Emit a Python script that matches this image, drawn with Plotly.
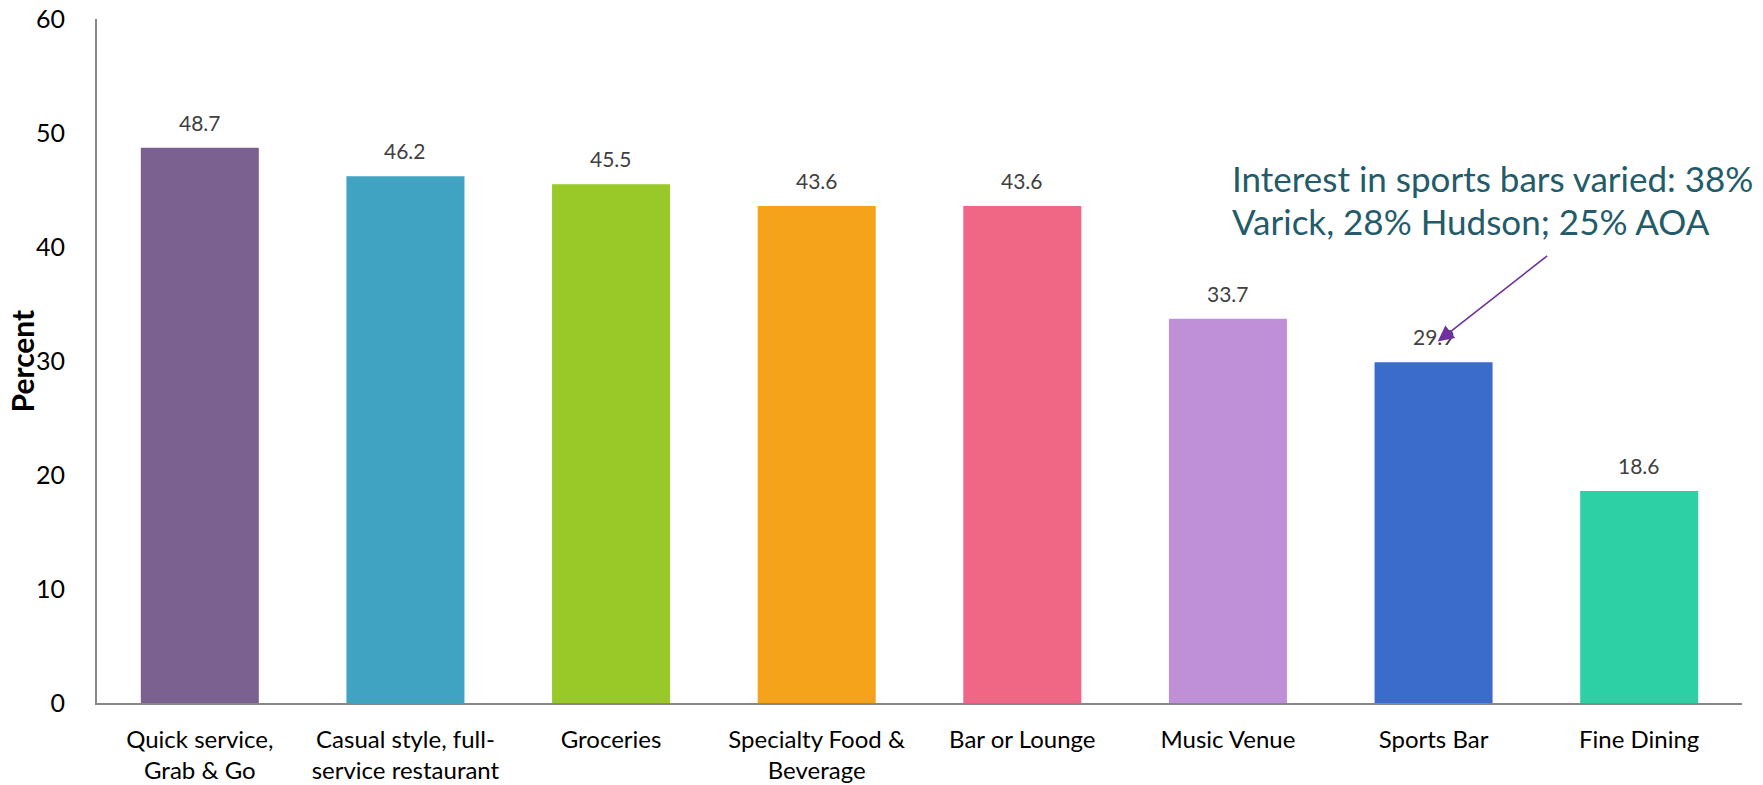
import plotly.graph_objects as go

# Share of respondents interested in each food & beverage option
categories = ["Quick service, Grab & Go", "Casual style, full-service restaurant", "Groceries",
              "Specialty Food & Beverage", "Bar or Lounge", "Music Venue", "Sports Bar", "Fine Dining"]
tick_labels = ["Quick service,<br>Grab & Go", "Casual style, full-<br>service restaurant", "Groceries",
               "Specialty Food &<br>Beverage", "Bar or Lounge", "Music Venue", "Sports Bar", "Fine Dining"]
percent = [48.7, 46.2, 45.5, 43.6, 43.6, 33.7, 29.9, 18.6]
bar_colors = ["#7B6190", "#3FA3C1", "#98C928", "#F4A31B", "#F06685", "#BF90D8", "#3C6CCB", "#2CD0A4"]

y_ticks = [0, 10, 20, 30, 40, 50, 60]

LABEL_FONT = "Lato"
AXIS_GRAY = "#878787"

fig = go.Figure(
    go.Bar(
        x=categories,
        y=percent,
        marker=dict(color=bar_colors, line=dict(width=0)),
        hoverinfo="skip",
    )
)

# Value labels above each bar
for cat, val in zip(categories, percent):
    fig.add_annotation(
        x=cat, y=val, text=f"{val:.1f}", showarrow=False,
        xanchor="center", yanchor="bottom", yshift=11,
        font=dict(family=LABEL_FONT, size=21, color="#404040"),
    )

# Callout for sports bars
sports_idx = categories.index("Sports Bar")
fig.add_annotation(
    x=sports_idx + 0.02, y=percent[sports_idx] + 1.8, xref="x", yref="y",
    text="", showarrow=True, arrowhead=2, arrowsize=2, arrowwidth=1.6,
    arrowcolor="#7030A0", ax=111, ay=-87, axref="pixel", ayref="pixel",
)
callout_lines = ["Interest in sports bars varied: 38%", "Varick, 28% Hudson; 25% AOA"]
for i, line in enumerate(callout_lines):
    fig.add_annotation(
        x=0.6888, y=(703 - 178 - i * 43) / 684, xref="paper", yref="paper",
        text=line, showarrow=False, xanchor="left", yanchor="middle",
        font=dict(family=LABEL_FONT, size=35, color="#235B6A"),
    )

# Y axis title
fig.add_annotation(
    x=-0.0453, y=(703 - 361) / 684, xref="paper", yref="paper", text="<b>Percent</b>",
    showarrow=False, textangle=-90, xanchor="center", yanchor="middle",
    font=dict(family=LABEL_FONT, size=30, color="#000000"),
)

fig.update_layout(
    width=1763, height=785,
    margin=dict(l=97, r=21, t=19, b=82),
    paper_bgcolor="white", plot_bgcolor="white",
    bargap=0.426,
    showlegend=False,
    xaxis=dict(
        tickmode="array", tickvals=categories, ticktext=tick_labels,
        showline=True, linecolor=AXIS_GRAY, linewidth=2, ticks="",
        showgrid=False, zeroline=False, ticklabelstandoff=14, automargin=False,
        tickfont=dict(family=LABEL_FONT, size=24, color="#000000"),
    ),
    yaxis=dict(
        range=[0, 60], tickvals=y_ticks, showline=True, linecolor=AXIS_GRAY, linewidth=2,
        ticks="", showgrid=False, zeroline=False, ticklabelstandoff=25, automargin=False,
        tickfont=dict(family=LABEL_FONT, size=25, color="#000000"),
    ),
)

fig.write_html("out.html")
